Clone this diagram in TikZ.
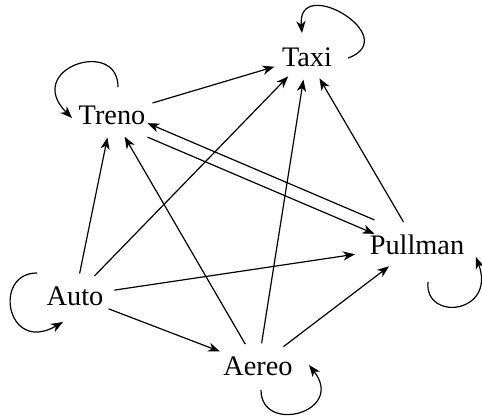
\documentclass[tikz,border=0pt]{standalone}
\usepackage{fontspec}
\setmainfont{Liberation Serif}
\usepackage{tikz}
\usetikzlibrary{arrows.meta}
\usetikzlibrary{shapes.geometric}
\tikzset{
    mezzo/.style = {ellipse, align=center, inner xsep=0pt, inner ysep=3pt, font=\fontsize{14.2}{17}\selectfont},
    arc/.style = {-{Stealth[length=6pt,width=4.6pt,inset=1.8pt]}, line width=0.6pt},
}
\begin{document}
\begin{tikzpicture}[
	scale=1,
	thick
]
\useasboundingbox (0,0) rectangle (8.502,7.391);
\node[mezzo] at (5.415,6.385) (taxi) {Taxi};
\node[mezzo] at (1.976,5.362) (treno) {Treno};
\node[mezzo] at (7.355,3.069) (pullman) {Pullman};
\node[mezzo] at (1.323,2.170) (auto) {Auto};
\node[mezzo] at (4.551,0.935) (aereo) {Aereo};
%
\draw[arc] (treno) edge (taxi);
\draw[arc] (auto) edge (treno);
\draw[arc] (auto) edge (taxi);
\draw[arc] (auto) edge (pullman);
\draw[arc] (auto) edge (aereo);
%
\draw[arc] (aereo) edge (treno);
\draw[arc] (aereo) edge (taxi);
\draw[arc] (aereo) edge (pullman);
\draw[arc] (pullman) edge (taxi);
%
\draw[arc, transform canvas={yshift=3.5pt}] (pullman) edge (treno);
\draw[arc, transform canvas={yshift=-3.5pt}] (treno) edge (pullman);
%
\draw[arc] ([shift={(0.106,0.494)}]treno.center) .. controls +(90:0.88) and +(135:1.23) .. ([shift={(-0.706,-0.053)}]treno.center);
\draw[arc] ([shift={(0.723,-0.018)}]taxi.center) .. controls +(20:1.06) and +(95:1.06) .. ([shift={(-0.088,0.423)}]taxi.center);
\draw[arc] ([shift={(-0.670,0.406)}]auto.center) .. controls +(180:0.79) and +(210:1.15) .. ([shift={(-0.212,-0.459)}]auto.center);
\draw[arc] ([shift={(0.194,-0.653)}]pullman.center) .. controls +(-95:0.71) and +(-70:1.06) .. ([shift={(1.041,-0.212)}]pullman.center);
\draw[arc] ([shift={(0.053,-0.423)}]aereo.center) .. controls +(-90:0.79) and +(-52:1.06) .. ([shift={(0.900,0.018)}]aereo.center);
\end{tikzpicture}
\end{document}
